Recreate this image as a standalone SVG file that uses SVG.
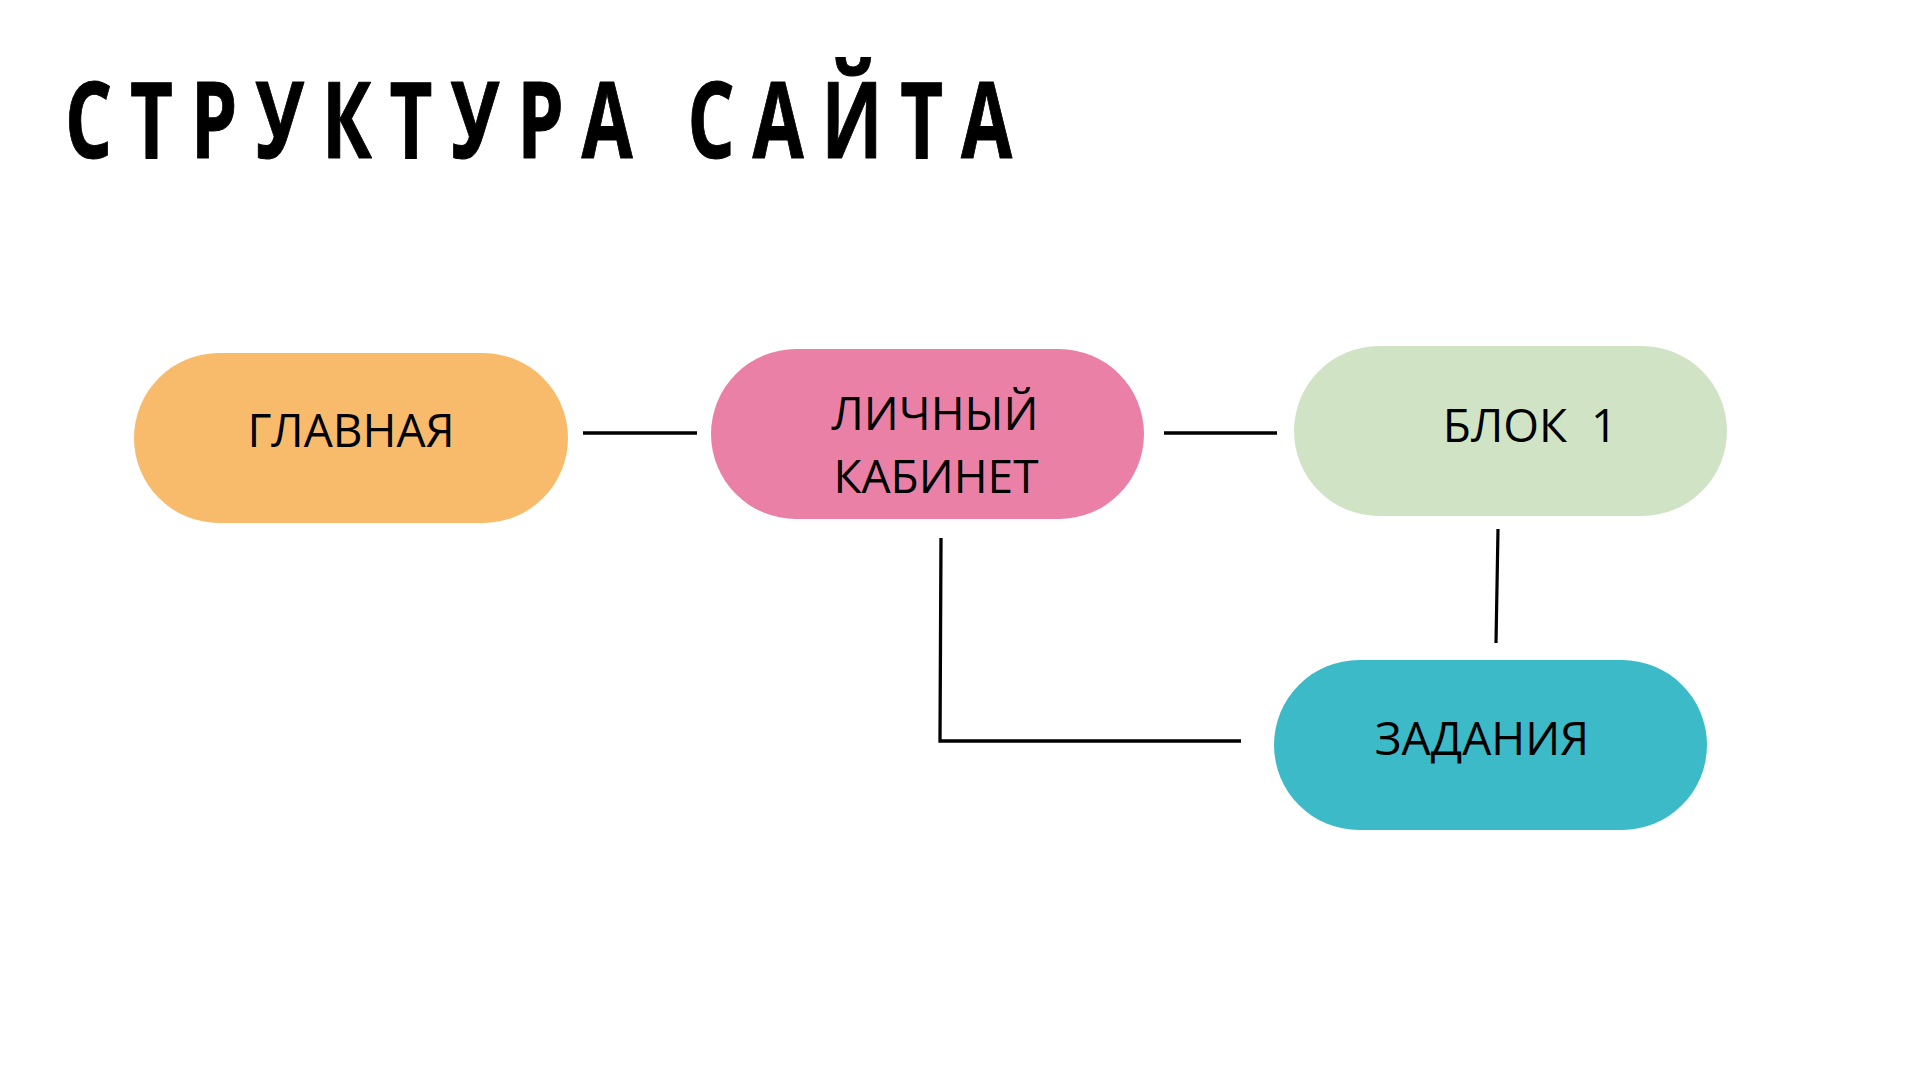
<svg xmlns="http://www.w3.org/2000/svg" width="1920" height="1080" viewBox="0 0 1920 1080">
<style>
.lbl{font-family:"Open Sans","Noto Sans","Liberation Sans",sans-serif;font-size:46px;fill:#000;text-anchor:middle}
.conn{stroke:#000;fill:none;stroke-linecap:butt}
.title{font-family:"Open Sans","Noto Sans","Liberation Sans",sans-serif;font-weight:700;font-size:106px;fill:#000}
</style>
<rect width="1920" height="1080" fill="#fff"/>
<g id="title">
<text class="title" x="92.9" y="158" transform="scale(0.7 1)" textLength="1353" lengthAdjust="spacing" stroke="#000" stroke-width="1" stroke-linejoin="round">СТРУКТУРА САЙТА</text>
</g>
<g id="connectors">
<line class="conn" x1="583" y1="433" x2="697" y2="433" stroke-width="3.5"/>
<line class="conn" x1="1164" y1="433" x2="1277" y2="433" stroke-width="3.5"/>
<line class="conn" x1="1498" y1="529" x2="1496" y2="643" stroke-width="3.2"/>
<path class="conn" d="M941 538 L940 741 L1241 741" stroke-width="3.3"/>
</g>
<g id="node-glavnaya">
<rect x="134" y="353" width="434" height="170" rx="85" fill="#F8BB6B"/>
<text class="lbl" x="351" y="447">ГЛАВНАЯ</text>
</g>
<g id="node-lichny">
<rect x="711" y="349" width="433" height="170" rx="85" fill="#EB80A6"/>
<text class="lbl" x="935" y="430">ЛИЧНЫЙ</text>
<text class="lbl" x="936" y="493">КАБИНЕТ</text>
</g>
<g id="node-blok1">
<rect x="1294" y="346" width="433" height="170" rx="85" fill="#D0E4C5"/>
<text class="lbl" x="1530" y="442" xml:space="preserve">БЛОК  1</text>
</g>
<g id="node-zadaniya">
<rect x="1274" y="660" width="433" height="170" rx="85" fill="#3CBAC7"/>
<text class="lbl" x="1482" y="755">ЗАДАНИЯ</text>
</g>
</svg>
